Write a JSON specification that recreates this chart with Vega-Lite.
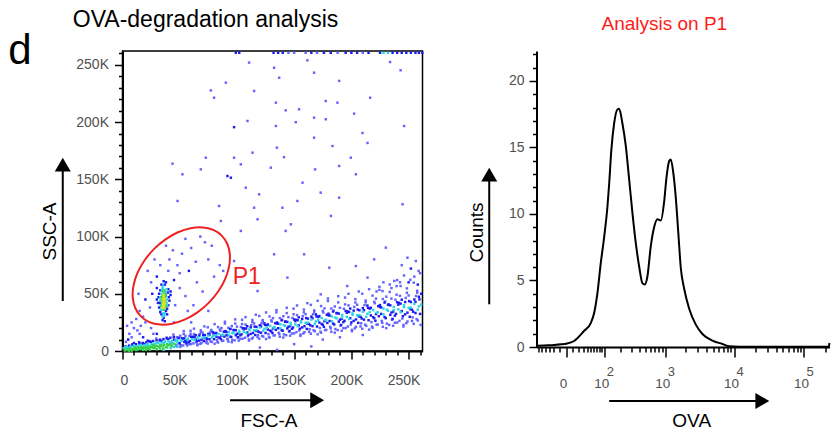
{
"$schema":"https://vega.github.io/schema/vega-lite/v6.json",
"background":"white",
"padding":{"left":7.5,"top":8,"right":0,"bottom":0},
"autosize":{"type":"pad"},
"spacing":43,
"config":{
 "font":"Liberation Sans",
 "view":{"stroke":null},
 "axis":{"domainColor":"#000","domainWidth":2,"tickColor":"#000","tickWidth":1.5,"labelColor":"#505050","labelFontSize":14,"labelFont":"Liberation Sans","titleColor":"#000","titleFontSize":19,"titleFontWeight":"normal","titleFont":"Liberation Sans","grid":false,"zindex":1,"labelFlush":false,"labelOverlap":false,"labelBound":false},
 "title":{"fontWeight":"normal","font":"Liberation Sans"}
},
"hconcat":[
{
 "width":300,"height":300,
 "view":{"stroke":"#000","strokeWidth":1.5},
 "title":{"text":"OVA-degradation analysis","anchor":"start","frame":"group","dx":-49.7,"baseline":"alphabetic","offset":-20,"fontSize":23,"color":"#000"},
 "resolve":{"axis":{"x":"independent","y":"independent"}},
 "layer":[
 {
  "data":{"values":[
{"x":2,"y":0.4,"d":3},{"x":3,"y":1.4,"d":3},{"x":1,"y":2.4,"d":2},{"x":2.5,"y":3.7,"d":2},
{"x":5,"y":1.1,"d":3},{"x":6,"y":2.4,"d":2},{"x":4,"y":3.5,"d":2},{"x":5.5,"y":0.3,"d":3},
{"x":8,"y":0.3,"d":3},{"x":9,"y":2.0,"d":3},{"x":7,"y":3.7,"d":2},{"x":8.5,"y":5.8,"d":1},
{"x":11,"y":1.6,"d":3},{"x":12,"y":3.1,"d":3},{"x":10,"y":5.1,"d":2},{"x":11.5,"y":2.9,"d":3},
{"x":14,"y":2.7,"d":3},{"x":15,"y":4.8,"d":2},{"x":13,"y":1.2,"d":3},{"x":14.5,"y":7.7,"d":1},
{"x":17,"y":1.8,"d":3},{"x":18,"y":3.4,"d":3},{"x":16,"y":4.8,"d":2},{"x":17.5,"y":6.5,"d":1},
{"x":20,"y":2.9,"d":3},{"x":21,"y":4.7,"d":2},{"x":19,"y":6.1,"d":1},{"x":20.5,"y":0.9,"d":3},
{"x":23,"y":1.8,"d":3},{"x":24,"y":3.9,"d":3},{"x":22,"y":6.0,"d":2},{"x":23.5,"y":8.7,"d":0},
{"x":26,"y":3.4,"d":3},{"x":27,"y":5.3,"d":3},{"x":25,"y":7.9,"d":1},{"x":26.5,"y":5.0,"d":2},
{"x":29,"y":4.7,"d":3},{"x":30,"y":7.4,"d":2},{"x":28,"y":2.7,"d":3},{"x":29.5,"y":11.0,"d":0},
{"x":32,"y":3.4,"d":3},{"x":33,"y":5.4,"d":3},{"x":31,"y":7.1,"d":2},{"x":32.5,"y":9.2,"d":1},
{"x":35,"y":4.8,"d":3},{"x":36,"y":7.0,"d":2},{"x":34,"y":8.8,"d":1},{"x":35.5,"y":2.3,"d":3},
{"x":38,"y":3.3,"d":3},{"x":39,"y":5.9,"d":3},{"x":37,"y":8.5,"d":2},{"x":38.5,"y":11.8,"d":0},
{"x":41,"y":5.1,"d":3},{"x":42,"y":7.4,"d":2},{"x":40,"y":10.4,"d":1},{"x":41.5,"y":7.0,"d":2},
{"x":44,"y":6.7,"d":2},{"x":45,"y":9.9,"d":1},{"x":43,"y":4.3,"d":3},{"x":44.5,"y":14.3,"d":0},
{"x":3.5,"y":0.9,"d":3},{"x":4.2,"y":2.6,"d":2},{"x":2.8,"y":4.2,"d":1},
{"x":6.5,"y":1.3,"d":3},{"x":7.2,"y":3.1,"d":2},{"x":5.8,"y":4.7,"d":1},
{"x":9.5,"y":1.7,"d":3},{"x":10.2,"y":3.6,"d":2},{"x":8.8,"y":5.3,"d":1},
{"x":12.5,"y":2.0,"d":3},{"x":13.2,"y":4.1,"d":2},{"x":11.8,"y":5.9,"d":1},
{"x":15.5,"y":2.4,"d":3},{"x":16.2,"y":4.6,"d":2},{"x":14.8,"y":6.5,"d":1},
{"x":18.5,"y":2.8,"d":3},{"x":19.2,"y":5.0,"d":2},{"x":17.8,"y":7.0,"d":1},
{"x":21.5,"y":3.1,"d":3},{"x":22.2,"y":5.5,"d":2},{"x":20.8,"y":7.6,"d":1},
{"x":24.5,"y":3.5,"d":3},{"x":25.2,"y":6.0,"d":2},{"x":23.8,"y":8.2,"d":1},
{"x":27.5,"y":3.9,"d":3},{"x":28.2,"y":6.5,"d":2},{"x":26.8,"y":8.7,"d":1},
{"x":30.5,"y":4.2,"d":3},{"x":31.2,"y":6.9,"d":2},{"x":29.8,"y":9.3,"d":1},
{"x":33.5,"y":4.6,"d":3},{"x":34.2,"y":7.4,"d":2},{"x":32.8,"y":9.9,"d":1},
{"x":36.5,"y":5.0,"d":3},{"x":37.2,"y":7.9,"d":2},{"x":35.8,"y":10.4,"d":1},
{"x":39.5,"y":5.3,"d":3},{"x":40.2,"y":8.4,"d":2},{"x":38.8,"y":11.0,"d":1},
{"x":42.5,"y":5.7,"d":3},{"x":43.2,"y":8.8,"d":2},{"x":41.8,"y":11.6,"d":1},
{"x":45.5,"y":6.1,"d":3},{"x":46.2,"y":9.3,"d":2},{"x":44.8,"y":12.2,"d":1},
{"x":47,"y":5.0,"d":0},{"x":48,"y":7.5,"d":2},{"x":46,"y":9.5,"d":1},{"x":47.5,"y":12.0,"d":0},
{"x":50,"y":6.7,"d":1},{"x":51,"y":9.2,"d":2},{"x":49,"y":11.4,"d":1},{"x":50.5,"y":3.6,"d":0},
{"x":53,"y":4.8,"d":0},{"x":54,"y":7.9,"d":1},{"x":52,"y":11.0,"d":1},{"x":53.5,"y":14.9,"d":0},
{"x":56,"y":6.9,"d":1},{"x":57,"y":9.6,"d":2},{"x":55,"y":13.2,"d":0},{"x":56.5,"y":9.2,"d":1},
{"x":59,"y":8.7,"d":1},{"x":60,"y":12.5,"d":1},{"x":58,"y":5.9,"d":0},{"x":59.5,"y":17.6,"d":0},
{"x":62,"y":6.7,"d":0},{"x":63,"y":9.5,"d":2},{"x":61,"y":11.9,"d":1},{"x":62.5,"y":14.8,"d":0},
{"x":65,"y":8.5,"d":1},{"x":66,"y":11.4,"d":2},{"x":64,"y":13.8,"d":1},{"x":65.5,"y":5.0,"d":0},
{"x":68,"y":6.3,"d":0},{"x":69,"y":9.9,"d":1},{"x":67,"y":13.4,"d":1},{"x":68.5,"y":18.0,"d":0},
{"x":71,"y":8.7,"d":1},{"x":72,"y":11.8,"d":2},{"x":70,"y":16.0,"d":0},{"x":71.5,"y":11.3,"d":1},
{"x":74,"y":10.6,"d":1},{"x":75,"y":14.9,"d":1},{"x":73,"y":7.4,"d":0},{"x":74.5,"y":20.7,"d":0},
{"x":77,"y":8.3,"d":0},{"x":78,"y":11.6,"d":2},{"x":76,"y":14.3,"d":1},{"x":77.5,"y":17.6,"d":0},
{"x":80,"y":10.3,"d":1},{"x":81,"y":13.7,"d":2},{"x":79,"y":16.5,"d":1},{"x":80.5,"y":6.4,"d":0},
{"x":83,"y":7.8,"d":0},{"x":84,"y":11.8,"d":1},{"x":82,"y":15.8,"d":1},{"x":83.5,"y":20.9,"d":0},
{"x":86,"y":10.5,"d":1},{"x":87,"y":14.0,"d":2},{"x":85,"y":18.7,"d":0},{"x":86.5,"y":13.4,"d":1},
{"x":89,"y":12.6,"d":1},{"x":90,"y":17.4,"d":1},{"x":88,"y":9.0,"d":0},{"x":89.5,"y":24.0,"d":0},
{"x":92,"y":9.9,"d":0},{"x":93,"y":13.6,"d":2},{"x":91,"y":16.6,"d":1},{"x":92.5,"y":20.3,"d":0},
{"x":95,"y":12.2,"d":1},{"x":96,"y":15.9,"d":2},{"x":94,"y":19.1,"d":1},{"x":95.5,"y":7.7,"d":0},
{"x":98,"y":9.3,"d":0},{"x":99,"y":13.8,"d":1},{"x":97,"y":18.3,"d":1},{"x":98.5,"y":24.0,"d":0},
{"x":101,"y":12.2,"d":1},{"x":102,"y":16.1,"d":2},{"x":100,"y":21.3,"d":0},{"x":101.5,"y":15.5,"d":1},
{"x":104,"y":14.6,"d":1},{"x":105,"y":20.0,"d":1},{"x":103,"y":10.6,"d":0},{"x":104.5,"y":27.3,"d":0},
{"x":107,"y":11.6,"d":0},{"x":108,"y":15.6,"d":2},{"x":106,"y":19.0,"d":1},{"x":107.5,"y":23.1,"d":0},
{"x":110,"y":14.0,"d":1},{"x":111,"y":18.2,"d":2},{"x":109,"y":21.7,"d":1},{"x":110.5,"y":9.1,"d":0},
{"x":113,"y":10.8,"d":0},{"x":114,"y":15.8,"d":1},{"x":112,"y":20.7,"d":1},{"x":113.5,"y":27.1,"d":0},
{"x":116,"y":14.0,"d":1},{"x":117,"y":18.3,"d":2},{"x":115,"y":24.1,"d":0},{"x":116.5,"y":17.6,"d":1},
{"x":119,"y":16.6,"d":1},{"x":120,"y":22.5,"d":1},{"x":118,"y":12.1,"d":0},{"x":119.5,"y":30.6,"d":0},
{"x":122,"y":13.2,"d":0},{"x":123,"y":17.7,"d":2},{"x":121,"y":21.5,"d":1},{"x":122.5,"y":26.0,"d":0},
{"x":125,"y":15.8,"d":1},{"x":126,"y":20.4,"d":2},{"x":124,"y":24.2,"d":1},{"x":125.5,"y":10.5,"d":0},
{"x":128,"y":12.3,"d":0},{"x":129,"y":17.8,"d":1},{"x":127,"y":23.2,"d":1},{"x":128.5,"y":30.2,"d":0},
{"x":131,"y":15.8,"d":1},{"x":132,"y":20.5,"d":2},{"x":130,"y":26.8,"d":0},{"x":131.5,"y":19.7,"d":1},
{"x":134,"y":18.5,"d":1},{"x":135,"y":24.9,"d":1},{"x":133,"y":13.7,"d":0},{"x":134.5,"y":33.7,"d":0},
{"x":137,"y":14.8,"d":0},{"x":138,"y":19.8,"d":2},{"x":136,"y":23.9,"d":1},{"x":137.5,"y":28.8,"d":0},
{"x":140,"y":17.7,"d":1},{"x":141,"y":22.6,"d":2},{"x":139,"y":26.8,"d":1},{"x":140.5,"y":11.8,"d":0},
{"x":143,"y":13.8,"d":0},{"x":144,"y":19.7,"d":1},{"x":142,"y":25.6,"d":1},{"x":143.5,"y":33.1,"d":0},
{"x":146,"y":17.5,"d":1},{"x":147,"y":22.7,"d":2},{"x":145,"y":29.6,"d":0},{"x":146.5,"y":21.8,"d":1},
{"x":149,"y":20.5,"d":1},{"x":150,"y":27.5,"d":1},{"x":148,"y":15.3,"d":0},{"x":149.5,"y":37.0,"d":0},
{"x":152,"y":16.5,"d":0},{"x":153,"y":21.7,"d":2},{"x":151,"y":26.1,"d":1},{"x":152.5,"y":31.4,"d":0},
{"x":155,"y":19.5,"d":1},{"x":156,"y":24.9,"d":2},{"x":154,"y":29.4,"d":1},{"x":155.5,"y":13.2,"d":0},
{"x":158,"y":15.3,"d":0},{"x":159,"y":21.7,"d":1},{"x":157,"y":28.0,"d":1},{"x":158.5,"y":36.2,"d":0},
{"x":161,"y":19.3,"d":1},{"x":162,"y":24.8,"d":2},{"x":160,"y":32.2,"d":0},{"x":161.5,"y":23.9,"d":1},
{"x":164,"y":22.5,"d":1},{"x":165,"y":30.0,"d":1},{"x":163,"y":16.8,"d":0},{"x":164.5,"y":40.3,"d":0},
{"x":167,"y":18.1,"d":0},{"x":168,"y":23.8,"d":2},{"x":166,"y":28.6,"d":1},{"x":167.5,"y":34.3,"d":0},
{"x":170,"y":21.4,"d":1},{"x":171,"y":27.2,"d":2},{"x":169,"y":32.0,"d":1},{"x":170.5,"y":14.6,"d":0},
{"x":173,"y":16.8,"d":0},{"x":174,"y":23.7,"d":1},{"x":172,"y":30.5,"d":1},{"x":173.5,"y":39.3,"d":0},
{"x":176,"y":21.1,"d":1},{"x":177,"y":27.0,"d":2},{"x":175,"y":34.9,"d":0},{"x":176.5,"y":26.0,"d":1},
{"x":179,"y":24.5,"d":1},{"x":180,"y":32.6,"d":1},{"x":178,"y":18.4,"d":0},{"x":179.5,"y":43.7,"d":0},
{"x":182,"y":19.7,"d":0},{"x":183,"y":25.9,"d":2},{"x":181,"y":31.0,"d":1},{"x":182.5,"y":37.1,"d":0},
{"x":185,"y":23.2,"d":1},{"x":186,"y":29.3,"d":2},{"x":184,"y":34.5,"d":1},{"x":185.5,"y":16.0,"d":0},
{"x":188,"y":18.3,"d":0},{"x":189,"y":25.7,"d":1},{"x":187,"y":33.0,"d":1},{"x":188.5,"y":42.5,"d":0},
{"x":191,"y":22.8,"d":1},{"x":192,"y":29.2,"d":2},{"x":190,"y":37.7,"d":0},{"x":191.5,"y":28.1,"d":1},
{"x":194,"y":26.4,"d":1},{"x":195,"y":35.0,"d":1},{"x":193,"y":20.0,"d":0},{"x":194.5,"y":46.7,"d":0},
{"x":197,"y":21.4,"d":0},{"x":198,"y":27.9,"d":2},{"x":196,"y":33.4,"d":1},{"x":197.5,"y":39.9,"d":0},
{"x":200,"y":25.0,"d":1},{"x":201,"y":31.6,"d":2},{"x":199,"y":37.1,"d":1},{"x":200.5,"y":17.3,"d":0},
{"x":203,"y":19.8,"d":0},{"x":204,"y":27.6,"d":1},{"x":202,"y":35.3,"d":1},{"x":203.5,"y":45.3,"d":0},
{"x":206,"y":24.6,"d":1},{"x":207,"y":31.4,"d":2},{"x":205,"y":40.4,"d":0},{"x":206.5,"y":30.3,"d":1},
{"x":209,"y":28.4,"d":1},{"x":210,"y":37.5,"d":1},{"x":208,"y":21.5,"d":0},{"x":209.5,"y":50.0,"d":0},
{"x":212,"y":23.0,"d":0},{"x":213,"y":29.9,"d":2},{"x":211,"y":35.7,"d":1},{"x":212.5,"y":42.6,"d":0},
{"x":215,"y":26.9,"d":1},{"x":216,"y":33.9,"d":2},{"x":214,"y":39.7,"d":1},{"x":215.5,"y":18.7,"d":0},
{"x":218,"y":21.3,"d":0},{"x":219,"y":29.6,"d":1},{"x":217,"y":37.8,"d":1},{"x":218.5,"y":48.4,"d":0},
{"x":221,"y":26.4,"d":1},{"x":222,"y":33.5,"d":2},{"x":220,"y":43.0,"d":0},{"x":221.5,"y":32.3,"d":1},
{"x":224,"y":30.4,"d":1},{"x":225,"y":40.1,"d":1},{"x":223,"y":23.1,"d":0},{"x":224.5,"y":53.4,"d":0},
{"x":227,"y":24.6,"d":0},{"x":228,"y":32.0,"d":2},{"x":226,"y":38.1,"d":1},{"x":227.5,"y":45.4,"d":0},
{"x":230,"y":28.7,"d":1},{"x":231,"y":36.1,"d":2},{"x":229,"y":42.3,"d":1},{"x":230.5,"y":20.0,"d":0},
{"x":233,"y":22.8,"d":0},{"x":234,"y":31.6,"d":1},{"x":232,"y":40.3,"d":1},{"x":233.5,"y":51.6,"d":0},
{"x":236,"y":28.1,"d":1},{"x":237,"y":35.7,"d":2},{"x":235,"y":45.8,"d":0},{"x":236.5,"y":34.4,"d":1},
{"x":239,"y":32.4,"d":1},{"x":240,"y":42.6,"d":1},{"x":238,"y":24.7,"d":0},{"x":239.5,"y":56.7,"d":0},
{"x":242,"y":26.3,"d":0},{"x":243,"y":33.9,"d":2},{"x":241,"y":40.5,"d":1},{"x":242.5,"y":48.2,"d":0},
{"x":245,"y":30.5,"d":1},{"x":246,"y":38.3,"d":2},{"x":244,"y":44.8,"d":1},{"x":245.5,"y":21.4,"d":0},
{"x":248,"y":24.3,"d":0},{"x":249,"y":33.5,"d":1},{"x":247,"y":42.8,"d":1},{"x":248.5,"y":54.7,"d":0},
{"x":251,"y":29.9,"d":1},{"x":252,"y":37.9,"d":2},{"x":250,"y":48.5,"d":0},{"x":251.5,"y":36.6,"d":1},
{"x":254,"y":34.3,"d":1},{"x":255,"y":45.0,"d":1},{"x":253,"y":26.2,"d":0},{"x":254.5,"y":59.7,"d":0},
{"x":257,"y":27.9,"d":0},{"x":258,"y":36.1,"d":2},{"x":256,"y":42.9,"d":1},{"x":257.5,"y":51.0,"d":0},
{"x":260,"y":32.4,"d":1},{"x":261,"y":40.6,"d":2},{"x":259,"y":47.4,"d":1},{"x":260.5,"y":22.8,"d":0},
{"x":49,"y":6.9,"d":1},{"x":48,"y":9.4,"d":2},{"x":49.5,"y":11.5,"d":0},{"x":47.5,"y":3.9,"d":0},
{"x":52,"y":9.0,"d":2},{"x":51,"y":5.1,"d":0},{"x":52.5,"y":10.9,"d":1},{"x":50.5,"y":13.3,"d":0},
{"x":55,"y":8.7,"d":1},{"x":54,"y":11.0,"d":1},{"x":55.5,"y":6.5,"d":0},{"x":53.5,"y":17.4,"d":0},
{"x":58,"y":8.0,"d":1},{"x":57,"y":10.8,"d":2},{"x":58.5,"y":13.1,"d":0},{"x":56.5,"y":4.8,"d":0},
{"x":61,"y":10.3,"d":2},{"x":60,"y":6.0,"d":0},{"x":61.5,"y":12.4,"d":1},{"x":59.5,"y":15.0,"d":0},
{"x":64,"y":10.0,"d":1},{"x":63,"y":12.4,"d":1},{"x":64.5,"y":7.6,"d":0},{"x":62.5,"y":19.5,"d":0},
{"x":67,"y":9.1,"d":1},{"x":66,"y":12.1,"d":2},{"x":67.5,"y":14.6,"d":0},{"x":65.5,"y":5.7,"d":0},
{"x":70,"y":11.6,"d":2},{"x":69,"y":7.0,"d":0},{"x":70.5,"y":13.9,"d":1},{"x":68.5,"y":16.7,"d":0},
{"x":73,"y":11.2,"d":1},{"x":72,"y":13.9,"d":1},{"x":73.5,"y":8.6,"d":0},{"x":71.5,"y":21.5,"d":0},
{"x":76,"y":10.3,"d":1},{"x":75,"y":13.5,"d":2},{"x":76.5,"y":16.2,"d":0},{"x":74.5,"y":6.5,"d":0},
{"x":79,"y":12.9,"d":2},{"x":78,"y":7.9,"d":0},{"x":79.5,"y":15.4,"d":1},{"x":77.5,"y":18.4,"d":0},
{"x":82,"y":12.5,"d":1},{"x":81,"y":15.3,"d":1},{"x":82.5,"y":9.6,"d":0},{"x":80.5,"y":23.5,"d":0},
{"x":85,"y":11.4,"d":1},{"x":84,"y":14.9,"d":2},{"x":85.5,"y":17.8,"d":0},{"x":83.5,"y":7.4,"d":0},
{"x":88,"y":14.2,"d":2},{"x":87,"y":8.8,"d":0},{"x":88.5,"y":16.9,"d":1},{"x":86.5,"y":20.1,"d":0},
{"x":91,"y":13.7,"d":1},{"x":90,"y":16.7,"d":1},{"x":91.5,"y":10.7,"d":0},{"x":89.5,"y":25.6,"d":0},
{"x":94,"y":12.6,"d":1},{"x":93,"y":16.3,"d":2},{"x":94.5,"y":19.4,"d":0},{"x":92.5,"y":8.2,"d":0},
{"x":97,"y":15.5,"d":2},{"x":96,"y":9.8,"d":0},{"x":97.5,"y":18.3,"d":1},{"x":95.5,"y":21.8,"d":0},
{"x":100,"y":15.0,"d":1},{"x":99,"y":18.2,"d":1},{"x":100.5,"y":11.7,"d":0},{"x":98.5,"y":27.6,"d":0},
{"x":103,"y":13.7,"d":1},{"x":102,"y":17.7,"d":2},{"x":103.5,"y":21.0,"d":0},{"x":101.5,"y":9.1,"d":0},
{"x":106,"y":16.8,"d":2},{"x":105,"y":10.7,"d":0},{"x":106.5,"y":19.8,"d":1},{"x":104.5,"y":23.6,"d":0},
{"x":109,"y":16.2,"d":1},{"x":108,"y":19.6,"d":1},{"x":109.5,"y":12.8,"d":0},{"x":107.5,"y":29.6,"d":0},
{"x":112,"y":14.9,"d":1},{"x":111,"y":19.1,"d":2},{"x":112.5,"y":22.6,"d":0},{"x":110.5,"y":10.0,"d":0},
{"x":115,"y":18.1,"d":2},{"x":114,"y":11.7,"d":0},{"x":115.5,"y":21.3,"d":1},{"x":113.5,"y":25.3,"d":0},
{"x":118,"y":17.5,"d":1},{"x":117,"y":21.1,"d":1},{"x":118.5,"y":13.8,"d":0},{"x":116.5,"y":31.7,"d":0},
{"x":121,"y":16.0,"d":1},{"x":120,"y":20.5,"d":2},{"x":121.5,"y":24.2,"d":0},{"x":119.5,"y":10.8,"d":0},
{"x":124,"y":19.4,"d":2},{"x":123,"y":12.6,"d":0},{"x":124.5,"y":22.8,"d":1},{"x":122.5,"y":27.0,"d":0},
{"x":127,"y":18.7,"d":1},{"x":126,"y":22.5,"d":1},{"x":127.5,"y":14.8,"d":0},{"x":125.5,"y":33.7,"d":0},
{"x":130,"y":17.2,"d":1},{"x":129,"y":21.9,"d":2},{"x":130.5,"y":25.8,"d":0},{"x":128.5,"y":11.7,"d":0},
{"x":133,"y":20.7,"d":2},{"x":132,"y":13.6,"d":0},{"x":133.5,"y":24.3,"d":1},{"x":131.5,"y":28.7,"d":0},
{"x":136,"y":19.9,"d":1},{"x":135,"y":24.0,"d":1},{"x":136.5,"y":15.9,"d":0},{"x":134.5,"y":35.7,"d":0},
{"x":139,"y":18.3,"d":1},{"x":138,"y":23.2,"d":2},{"x":139.5,"y":27.3,"d":0},{"x":137.5,"y":12.5,"d":0},
{"x":142,"y":22.0,"d":2},{"x":141,"y":14.5,"d":0},{"x":142.5,"y":25.8,"d":1},{"x":140.5,"y":30.4,"d":0},
{"x":145,"y":21.2,"d":1},{"x":144,"y":25.4,"d":1},{"x":145.5,"y":16.9,"d":0},{"x":143.5,"y":37.8,"d":0},
{"x":148,"y":19.4,"d":1},{"x":147,"y":24.6,"d":2},{"x":148.5,"y":28.9,"d":0},{"x":146.5,"y":13.4,"d":0},
{"x":151,"y":23.3,"d":2},{"x":150,"y":15.4,"d":0},{"x":151.5,"y":27.3,"d":1},{"x":149.5,"y":32.1,"d":0},
{"x":154,"y":22.4,"d":1},{"x":153,"y":26.9,"d":1},{"x":154.5,"y":18.0,"d":0},{"x":152.5,"y":39.8,"d":0},
{"x":157,"y":20.6,"d":1},{"x":156,"y":26.0,"d":2},{"x":157.5,"y":30.5,"d":0},{"x":155.5,"y":14.3,"d":0},
{"x":160,"y":24.6,"d":2},{"x":159,"y":16.4,"d":0},{"x":160.5,"y":28.8,"d":1},{"x":158.5,"y":33.8,"d":0},
{"x":163,"y":23.7,"d":1},{"x":162,"y":28.3,"d":1},{"x":163.5,"y":19.0,"d":0},{"x":161.5,"y":41.8,"d":0},
{"x":166,"y":21.7,"d":1},{"x":165,"y":27.4,"d":2},{"x":166.5,"y":32.1,"d":0},{"x":164.5,"y":15.1,"d":0},
{"x":169,"y":25.9,"d":2},{"x":168,"y":17.3,"d":0},{"x":169.5,"y":30.2,"d":1},{"x":167.5,"y":35.5,"d":0},
{"x":172,"y":24.9,"d":1},{"x":171,"y":29.8,"d":1},{"x":172.5,"y":20.1,"d":0},{"x":170.5,"y":43.9,"d":0},
{"x":175,"y":22.9,"d":1},{"x":174,"y":28.8,"d":2},{"x":175.5,"y":33.7,"d":0},{"x":173.5,"y":16.0,"d":0},
{"x":178,"y":27.2,"d":2},{"x":177,"y":18.3,"d":0},{"x":178.5,"y":31.7,"d":1},{"x":176.5,"y":37.2,"d":0},
{"x":181,"y":26.2,"d":1},{"x":180,"y":31.2,"d":1},{"x":181.5,"y":21.1,"d":0},{"x":179.5,"y":45.9,"d":0},
{"x":184,"y":24.0,"d":1},{"x":183,"y":30.2,"d":2},{"x":184.5,"y":35.3,"d":0},{"x":182.5,"y":16.8,"d":0},
{"x":187,"y":28.5,"d":2},{"x":186,"y":19.2,"d":0},{"x":187.5,"y":33.2,"d":1},{"x":185.5,"y":38.9,"d":0},
{"x":190,"y":27.4,"d":1},{"x":189,"y":32.7,"d":1},{"x":190.5,"y":22.1,"d":0},{"x":188.5,"y":47.9,"d":0},
{"x":193,"y":25.2,"d":1},{"x":192,"y":31.5,"d":2},{"x":193.5,"y":36.9,"d":0},{"x":191.5,"y":17.7,"d":0},
{"x":196,"y":29.9,"d":2},{"x":195,"y":20.1,"d":0},{"x":196.5,"y":34.7,"d":1},{"x":194.5,"y":40.7,"d":0},
{"x":199,"y":28.6,"d":1},{"x":198,"y":34.1,"d":1},{"x":199.5,"y":23.2,"d":0},{"x":197.5,"y":50.0,"d":0},
{"x":202,"y":26.3,"d":1},{"x":201,"y":32.9,"d":2},{"x":202.5,"y":38.5,"d":0},{"x":200.5,"y":18.5,"d":0},
{"x":205,"y":31.2,"d":2},{"x":204,"y":21.1,"d":0},{"x":205.5,"y":36.2,"d":1},{"x":203.5,"y":42.4,"d":0},
{"x":208,"y":29.9,"d":1},{"x":207,"y":35.6,"d":1},{"x":208.5,"y":24.2,"d":0},{"x":206.5,"y":52.0,"d":0},
{"x":211,"y":27.4,"d":1},{"x":210,"y":34.3,"d":2},{"x":211.5,"y":40.1,"d":0},{"x":209.5,"y":19.4,"d":0},
{"x":214,"y":32.5,"d":2},{"x":213,"y":22.0,"d":0},{"x":214.5,"y":37.7,"d":1},{"x":212.5,"y":44.1,"d":0},
{"x":217,"y":31.1,"d":1},{"x":216,"y":37.0,"d":1},{"x":217.5,"y":25.3,"d":0},{"x":215.5,"y":54.0,"d":0},
{"x":220,"y":28.6,"d":1},{"x":219,"y":35.7,"d":2},{"x":220.5,"y":41.7,"d":0},{"x":218.5,"y":20.3,"d":0},
{"x":223,"y":33.8,"d":2},{"x":222,"y":23.0,"d":0},{"x":223.5,"y":39.2,"d":1},{"x":221.5,"y":45.8,"d":0},
{"x":226,"y":32.4,"d":1},{"x":225,"y":38.5,"d":1},{"x":226.5,"y":26.3,"d":0},{"x":224.5,"y":56.1,"d":0},
{"x":229,"y":29.7,"d":1},{"x":228,"y":37.1,"d":2},{"x":229.5,"y":43.2,"d":0},{"x":227.5,"y":21.1,"d":0},
{"x":232,"y":35.1,"d":2},{"x":231,"y":23.9,"d":0},{"x":232.5,"y":40.7,"d":1},{"x":230.5,"y":47.5,"d":0},
{"x":235,"y":33.6,"d":1},{"x":234,"y":39.9,"d":1},{"x":235.5,"y":27.3,"d":0},{"x":233.5,"y":58.1,"d":0},
{"x":238,"y":30.9,"d":1},{"x":237,"y":38.5,"d":2},{"x":238.5,"y":44.8,"d":0},{"x":236.5,"y":22.0,"d":0},
{"x":241,"y":36.4,"d":2},{"x":240,"y":24.8,"d":0},{"x":241.5,"y":42.1,"d":1},{"x":239.5,"y":49.2,"d":0},
{"x":244,"y":34.9,"d":1},{"x":243,"y":41.4,"d":1},{"x":244.5,"y":28.4,"d":0},{"x":242.5,"y":60.1,"d":0},
{"x":247,"y":32.0,"d":1},{"x":246,"y":39.9,"d":2},{"x":247.5,"y":46.4,"d":0},{"x":245.5,"y":22.8,"d":0},
{"x":250,"y":37.7,"d":2},{"x":249,"y":25.8,"d":0},{"x":250.5,"y":43.6,"d":1},{"x":248.5,"y":50.9,"d":0},
{"x":253,"y":36.1,"d":1},{"x":252,"y":42.8,"d":1},{"x":253.5,"y":29.4,"d":0},{"x":251.5,"y":62.2,"d":0},
{"x":256,"y":33.2,"d":1},{"x":255,"y":41.3,"d":2},{"x":256.5,"y":48.0,"d":0},{"x":254.5,"y":23.7,"d":0},
{"x":259,"y":39.0,"d":2},{"x":258,"y":26.7,"d":0},{"x":259.5,"y":45.1,"d":1},{"x":257.5,"y":52.6,"d":0},
{"x":3,"y":1,"d":3},{"x":6,"y":2,"d":3},{"x":9,"y":1.5,"d":3},{"x":12,"y":0.8,"d":3},{"x":15,"y":1.8,"d":3},{"x":18,"y":1,"d":3},{"x":21,"y":2,"d":3},{"x":24,"y":1.2,"d":3},{"x":27,"y":2.5,"d":3},{"x":30,"y":1.5,"d":3},{"x":33,"y":2.2,"d":3},{"x":36,"y":1,"d":2},{"x":39,"y":3,"d":3},{"x":42,"y":2.5,"d":2},{"x":45,"y":3.5,"d":2},{"x":48,"y":4,"d":2},{"x":10,"y":2.8,"d":3},{"x":16,"y":3,"d":3},{"x":22,"y":3.2,"d":3},{"x":28,"y":3.8,"d":2},
{"x":3,"y":8,"d":0},{"x":6,"y":15,"d":0},{"x":10,"y":7,"d":1},{"x":13,"y":18,"d":0},{"x":4,"y":22,"d":0},{"x":18,"y":12,"d":1},{"x":22,"y":9,"d":1},{"x":8,"y":25,"d":0},{"x":16,"y":22,"d":0},{"x":27,"y":15,"d":0},
{"x":36,"y":40,"d":4},{"x":36.5,"y":43,"d":4},{"x":35.5,"y":45,"d":4},{"x":36,"y":47,"d":4},{"x":37,"y":41,"d":4},{"x":35,"y":38,"d":4},{"x":36.5,"y":38,"d":4},{"x":35.5,"y":42,"d":4},{"x":37,"y":45,"d":4},{"x":36,"y":49,"d":4},
{"x":34.5,"y":42,"d":3},{"x":37.5,"y":44,"d":3},{"x":35,"y":48,"d":3},{"x":36.5,"y":50,"d":3},{"x":34,"y":39,"d":3},{"x":38,"y":39,"d":3},{"x":36,"y":36,"d":3},{"x":35.5,"y":52,"d":3},{"x":37,"y":47,"d":3},{"x":34.5,"y":45,"d":3},{"x":35,"y":42,"d":3},{"x":37,"y":38,"d":3},{"x":36,"y":44,"d":3},{"x":37.5,"y":49,"d":3},{"x":34,"y":47,"d":3},{"x":36,"y":53,"d":3},
{"x":33.5,"y":36,"d":2},{"x":38.5,"y":42,"d":2},{"x":33,"y":44,"d":2},{"x":36,"y":33,"d":2},{"x":37.5,"y":52,"d":2},{"x":35,"y":55,"d":2},{"x":38,"y":48,"d":2},{"x":34,"y":50,"d":2},{"x":36.5,"y":31,"d":2},{"x":33.5,"y":40,"d":2},{"x":39,"y":45,"d":2},{"x":35.5,"y":57,"d":2},{"x":34,"y":36,"d":2},{"x":39,"y":40,"d":2},{"x":33,"y":47,"d":2},{"x":38.5,"y":54,"d":2},{"x":35,"y":30,"d":2},{"x":37,"y":33,"d":2},{"x":38,"y":50,"d":2},{"x":34.5,"y":53,"d":2},
{"x":32,"y":38,"d":1},{"x":40,"y":40,"d":1},{"x":31.5,"y":47,"d":1},{"x":39.5,"y":51,"d":1},{"x":36,"y":29,"d":1},{"x":33,"y":53,"d":1},{"x":37,"y":58,"d":1},{"x":38,"y":35,"d":1},{"x":34,"y":32,"d":1},{"x":40.5,"y":47,"d":1},{"x":36,"y":61,"d":1},{"x":32.5,"y":42,"d":1},{"x":35,"y":27,"d":1},{"x":39,"y":37,"d":1},{"x":31,"y":42,"d":1},{"x":41,"y":44,"d":1},{"x":32,"y":50,"d":1},{"x":40,"y":54,"d":1},{"x":34,"y":58,"d":1},{"x":38,"y":60,"d":1},{"x":33,"y":34,"d":1},{"x":39,"y":32,"d":1},{"x":37,"y":26,"d":1},{"x":42,"y":49,"d":1},{"x":30,"y":45,"d":1},
{"x":15,"y":35,"d":0},{"x":20,"y":45,"d":1},{"x":14,"y":50,"d":0},{"x":25,"y":60,"d":0},{"x":22,"y":70,"d":0},{"x":30,"y":65,"d":1},{"x":28,"y":80,"d":0},{"x":40,"y":70,"d":0},{"x":45,"y":62,"d":1},{"x":50,"y":55,"d":0},{"x":55,"y":48,"d":0},{"x":48,"y":75,"d":0},{"x":52,"y":85,"d":0},{"x":60,"y":90,"d":0},{"x":58,"y":70,"d":1},{"x":65,"y":60,"d":0},{"x":70,"y":52,"d":0},{"x":62,"y":40,"d":0},{"x":75,"y":80,"d":0},{"x":80,"y":65,"d":0},{"x":85,"y":75,"d":0},{"x":72,"y":95,"d":0},{"x":68,"y":100,"d":0},{"x":55,"y":98,"d":0},{"x":44,"y":88,"d":0},{"x":38,"y":92,"d":0},{"x":33,"y":75,"d":0},{"x":26,"y":50,"d":1},{"x":18,"y":30,"d":0},{"x":12,"y":28,"d":0},{"x":42,"y":52,"d":1},{"x":46,"y":40,"d":0},{"x":57,"y":35,"d":0},{"x":64,"y":78,"d":0},{"x":78,"y":92,"d":0},{"x":88,"y":70,"d":0},{"x":50,"y":68,"d":0},{"x":41,"y":80,"d":0},{"x":30,"y":55,"d":1},{"x":24,"y":38,"d":0},{"x":20,"y":25,"d":0},{"x":10,"y":20,"d":0},{"x":8,"y":12,"d":0},{"x":15,"y":15,"d":0},{"x":5,"y":10,"d":1},{"x":25,"y":20,"d":0},{"x":30,"y":15,"d":1},{"x":45,"y":25,"d":0},{"x":60,"y":25,"d":0},{"x":75,"y":35,"d":0},
{"x":110.6,"y":252,"d":0},{"x":161.6,"y":254,"d":0},{"x":233.8,"y":252.5,"d":0},{"x":243,"y":245.3,"d":0},{"x":132.5,"y":247.5,"d":0},{"x":167.4,"y":243.2,"d":0},{"x":136.9,"y":238.8,"d":0},{"x":189.3,"y":236,"d":0},{"x":90.3,"y":234.5,"d":0},{"x":115,"y":227.2,"d":0},{"x":77.2,"y":227.7,"d":0},{"x":80,"y":221.3,"d":0},{"x":216.4,"y":221.3,"d":0},{"x":177.6,"y":218.4,"d":0},{"x":187.8,"y":217,"d":0},{"x":134,"y":217,"d":0},{"x":154.3,"y":211.2,"d":0},{"x":142.6,"y":210.3,"d":0},{"x":202.4,"y":207.4,"d":0},{"x":109.2,"y":201,"d":0},{"x":167.4,"y":203.9,"d":0},{"x":151.4,"y":199.9,"d":0},{"x":177.6,"y":202.5,"d":0},{"x":246.1,"y":196.6,"d":0},{"x":97.5,"y":195.6,"d":1},{"x":134,"y":196.6,"d":0},{"x":167.4,"y":186.4,"d":0},{"x":209.7,"y":190.5,"d":0},{"x":183.5,"y":179.1,"d":0},{"x":214.1,"y":181.8,"d":0},{"x":134.9,"y":177.7,"d":0},{"x":113.6,"y":173.3,"d":0},{"x":72.8,"y":168.9,"d":0},{"x":97.5,"y":168.9,"d":0},{"x":141.1,"y":169.4,"d":0},{"x":199.5,"y":168.9,"d":0},{"x":103.4,"y":163.1,"d":0},{"x":43.7,"y":163.7,"d":0},{"x":189.3,"y":161.7,"d":0},{"x":129.6,"y":160.2,"d":0},{"x":168.3,"y":158.7,"d":0},{"x":52.4,"y":154.4,"d":0},{"x":68.4,"y":158.7,"d":0},{"x":91.7,"y":152.9,"d":1},{"x":94.7,"y":151.4,"d":1},{"x":203.9,"y":154.4,"d":0},{"x":157.3,"y":147.1,"d":0},{"x":107.7,"y":142.7,"d":0},{"x":119.4,"y":136.9,"d":0},{"x":173.2,"y":138.4,"d":0},{"x":189.3,"y":134,"d":0},{"x":48.1,"y":131.1,"d":0},{"x":244.7,"y":128.2,"d":0},{"x":84.4,"y":126.7,"d":0},{"x":139.7,"y":125.2,"d":0},{"x":152.8,"y":131.1,"d":0},{"x":118,"y":115.1,"d":0},{"x":182.1,"y":118,"d":0},{"x":147.1,"y":110.7,"d":0},{"x":103.4,"y":104.9,"d":0},{"x":142.6,"y":104.9,"d":0},{"x":230.1,"y":90.3,"d":0},{"x":158.7,"y":84.5,"d":0},{"x":132.5,"y":84.5,"d":0},{"x":219.9,"y":80.1,"d":0},{"x":180.7,"y":72.8,"d":0},{"x":203.9,"y":74.2,"d":0},{"x":249,"y":81.5,"d":0},{"x":256.3,"y":78.6,"d":0},{"x":214.1,"y":64.1,"d":0},{"x":237.5,"y":61.2,"d":0},{"x":258.8,"y":70,"d":0},{"x":196.4,"y":56.8,"d":0},{"x":144.1,"y":64.1,"d":0},{"x":118,"y":52.4,"d":0},{"x":227.2,"y":52.4,"d":0},{"x":173.2,"y":49.5,"d":0},{"x":243,"y":56.8,"d":0},{"x":97.5,"y":78.6,"d":0},{"x":85.9,"y":113.6,"d":0},{"x":115,"y":125.2,"d":0},
{"x":240,"y":62,"d":0},{"x":246,"y":66,"d":0},{"x":252,"y":72,"d":1},{"x":258,"y":58,"d":1},{"x":235,"y":55,"d":0},{"x":228,"y":60,"d":0},{"x":250,"y":60,"d":1},{"x":255,"y":65,"d":0},{"x":222,"y":52,"d":0},{"x":244,"y":75,"d":0},{"x":261,"y":50,"d":1},{"x":260,"y":68,"d":0},
{"x":120,"y":3,"d":0},{"x":150,"y":6,"d":0},{"x":175,"y":10,"d":0},{"x":135,"y":1,"d":0},{"x":190,"y":12,"d":0},{"x":210,"y":14,"d":0},{"x":165,"y":4,"d":0},
{"x":99,"y":260.6,"d":1},{"x":102,"y":260.6,"d":1},{"x":132,"y":260.6,"d":1},{"x":136,"y":260.6,"d":1},{"x":140,"y":260.6,"d":1},{"x":145,"y":260.6,"d":0},{"x":150,"y":260.6,"d":0},{"x":160,"y":260.6,"d":0},{"x":165,"y":260.6,"d":1},{"x":170,"y":260.6,"d":0},{"x":176,"y":260.6,"d":1},{"x":182,"y":260.6,"d":1},{"x":188,"y":260.6,"d":0},{"x":195,"y":260.6,"d":1},{"x":200,"y":260.6,"d":1},{"x":205,"y":260.6,"d":1},{"x":210,"y":260.6,"d":0},{"x":215,"y":260.6,"d":1},{"x":225,"y":260.6,"d":1},{"x":228,"y":260.6,"d":2},{"x":232,"y":260.6,"d":2},{"x":236,"y":260.6,"d":1},{"x":240,"y":260.6,"d":1},{"x":244,"y":260.6,"d":1},{"x":248,"y":260.6,"d":1},{"x":252,"y":260.6,"d":1},{"x":256,"y":260.6,"d":1},{"x":259,"y":260.6,"d":1},{"x":262,"y":260.6,"d":1}
  ]},
  "mark":{"type":"point","shape":"square","filled":true,"size":6,"opacity":1,"strokeWidth":0},
  "encoding":{
   "x":{"field":"x","type":"quantitative","scale":{"domain":[0,262.144],"nice":false,"zero":false},
        "axis":{"orient":"bottom","values":[0,50,100,150,200,250],"labelExpr":"datum.value == 0 ? '0' : datum.value + 'K'","tickSize":8,"labelPadding":25,"labelBaseline":"alphabetic","labelOffset":{"condition":{"test":"datum.value == 0","value":1.5},"value":-5},"title":"FSC-A","titleX":146,"titleY":75,"titleBaseline":"alphabetic"}},
   "y":{"field":"y","type":"quantitative","scale":{"domain":[0,262.144],"nice":false,"zero":false},
        "axis":{"orient":"left","values":[0,50,100,150,200,250],"labelExpr":"datum.value == 0 ? '0' : datum.value + 'K'","tickSize":8,"labelPadding":6,"title":"SSC-A","titleX":-66.7,"titleY":180,"titleBaseline":"alphabetic"}},
   "color":{"field":"d","type":"ordinal","scale":{"domain":[0,1,2,3,4],"range":["#6464ff","#1c1cf2","#2cd3e6","#38d24e","#e2e01c"]},"legend":null},
   "order":{"field":"d","type":"quantitative"}
  }
 },
 {
  "data":{"values":[
{"t":0,"x":86.68,"y":100.84},{"t":1,"x":79.34,"y":105.78},{"t":2,"x":70.09,"y":107.97},{"t":3,"x":59.57,"y":107.27},{"t":4,"x":48.49,"y":103.73},{"t":5,"x":37.61,"y":97.59},{"t":6,"x":27.66,"y":89.26},{"t":7,"x":19.33,"y":79.31},{"t":8,"x":13.19,"y":68.43},{"t":9,"x":9.65,"y":57.35},{"t":10,"x":8.95,"y":46.83},{"t":11,"x":11.14,"y":37.58},{"t":12,"x":16.08,"y":30.24},{"t":13,"x":23.42,"y":25.30},{"t":14,"x":32.67,"y":23.11},{"t":15,"x":43.19,"y":23.81},{"t":16,"x":54.27,"y":27.35},{"t":17,"x":65.15,"y":33.49},{"t":18,"x":75.10,"y":41.82},{"t":19,"x":83.43,"y":51.77},{"t":20,"x":89.57,"y":62.65},{"t":21,"x":93.11,"y":73.73},{"t":22,"x":93.81,"y":84.25},{"t":23,"x":91.62,"y":93.50}
  ]},
  "mark":{"type":"line","interpolate":"cardinal-closed","color":"#ee2222","strokeWidth":2},
  "encoding":{
   "x":{"field":"x","type":"quantitative","scale":{"domain":[0,262.144],"nice":false,"zero":false},
        "axis":{"orient":"bottom","values":[10,20,30,40,60,70,80,90,110,120,130,140,160,170,180,190,210,220,230,240,260],"labels":false,"domain":false,"tickSize":4,"title":null}},
   "y":{"field":"y","type":"quantitative","scale":{"domain":[0,262.144],"nice":false,"zero":false},
        "axis":{"orient":"left","values":[10,20,30,40,60,70,80,90,110,120,130,140,160,170,180,190,210,220,230,240,260],"labels":false,"domain":false,"tickSize":4,"title":null}},
   "order":{"field":"t","type":"quantitative"}
  }
 },
 {
  "data":{"values":[{"x":108.6,"y":64.7,"t":"P1"}]},
  "mark":{"type":"text","fontSize":23,"align":"center","baseline":"middle","color":"#ee2222"},
  "encoding":{
   "x":{"field":"x","type":"quantitative","scale":{"domain":[0,262.144],"nice":false,"zero":false},"axis":null},
   "y":{"field":"y","type":"quantitative","scale":{"domain":[0,262.144],"nice":false,"zero":false},"axis":null},
   "text":{"field":"t"}
  }
 },
 {
  "data":{"values":[{"x":-89.6,"y":250.8,"t":"d"}]},
  "mark":{"type":"text","fontSize":42,"align":"center","baseline":"alphabetic","color":"#000"},
  "encoding":{
   "x":{"field":"x","type":"quantitative","scale":{"domain":[0,262.144],"nice":false,"zero":false},"axis":null},
   "y":{"field":"y","type":"quantitative","scale":{"domain":[0,262.144],"nice":false,"zero":false},"axis":null},
   "text":{"field":"t"}
  }
 },
 {
  "data":{"values":[{"x":94,"x2":168,"y":-43.1,"y2":-43.1},{"x":-52.2,"x2":-52.2,"y":43.7,"y2":158}]},
  "mark":{"type":"rule","color":"#000","strokeWidth":2},
  "encoding":{
   "x":{"field":"x","type":"quantitative","scale":{"domain":[0,262.144],"nice":false,"zero":false},"axis":null},
   "x2":{"field":"x2"},
   "y":{"field":"y","type":"quantitative","scale":{"domain":[0,262.144],"nice":false,"zero":false},"axis":null},
   "y2":{"field":"y2"}
  }
 },
 {
  "data":{"values":[{"x":170.1,"y":-43.1,"s":"triangle-right"},{"x":-52.2,"y":162.9,"s":"triangle-up"}]},
  "mark":{"type":"point","filled":true,"size":256,"color":"#000","opacity":1,"strokeWidth":0},
  "encoding":{
   "x":{"field":"x","type":"quantitative","scale":{"domain":[0,262.144],"nice":false,"zero":false},"axis":null},
   "y":{"field":"y","type":"quantitative","scale":{"domain":[0,262.144],"nice":false,"zero":false},"axis":null},
   "shape":{"field":"s","type":"nominal","scale":null}
  }
 }
 ]
},
{
 "width":293,"height":296,
 "view":{"stroke":null},
 "title":{"text":"Analysis on P1","anchor":"start","frame":"group","dx":65,"baseline":"alphabetic","offset":2.5,"fontSize":19,"color":"#ff1a1a"},
 "resolve":{"axis":{"x":"independent","y":"independent"}},
 "layer":[
 {
  "data":{"values":[
{"v":-66,"c":0.1},{"v":-42,"c":0.12},{"v":-19,"c":0.15},{"v":-7,"c":0.2},{"v":0,"c":0.25},{"v":12,"c":0.45},{"v":32,"c":1.2},{"v":50,"c":1.8},{"v":60.5,"c":2.55},{"v":72,"c":4.05},{"v":85,"c":6.3},{"v":100,"c":8.3},{"v":116,"c":10.6},{"v":125,"c":12.3},{"v":137,"c":14.8},{"v":154,"c":16.8},{"v":176,"c":17.85},{"v":189,"c":17.9},{"v":215,"c":16.8},{"v":245,"c":15.1},{"v":278,"c":12.6},{"v":314,"c":10.1},{"v":356,"c":7.8},{"v":402,"c":6.05},{"v":452,"c":4.8},{"v":492,"c":4.7},{"v":540,"c":5.3},{"v":609,"c":7.6},{"v":683,"c":9.0},{"v":766,"c":9.6},{"v":862,"c":9.5},{"v":965,"c":10.9},{"v":1044,"c":12.7},{"v":1144,"c":13.96},{"v":1212,"c":14.1},{"v":1311,"c":13.2},{"v":1437,"c":11.2},{"v":1569,"c":8.45},{"v":1700,"c":5.94},{"v":1900,"c":4.4},{"v":2246,"c":2.9},{"v":2811,"c":1.68},{"v":3502,"c":0.98},{"v":4881,"c":0.48},{"v":6800,"c":0.23},{"v":8484,"c":0.05},{"v":11800,"c":0.02},{"v":60000,"c":0.02},{"v":225000,"c":0.02},{"v":231700,"c":0.3}
  ]},
  "mark":{"type":"line","interpolate":"monotone","color":"#000","strokeWidth":2},
  "encoding":{
   "x":{"field":"v","type":"quantitative","scale":{"type":"symlog","constant":40,"domain":[-66,231700],"nice":false,"zero":false},
        "axis":{"orient":"bottom","values":[0,100,1000,10000,100000],"labelExpr":"datum.value == 0 ? '0' : '10'","tickSize":10,"labelPadding":30,"labelBaseline":"alphabetic","labelOffset":-3,"labelFontSize":13.5,"title":"OVA","titleX":154.7,"titleY":79,"titleBaseline":"alphabetic"}},
   "y":{"field":"c","type":"quantitative","scale":{"domain":[0,22.25],"nice":false,"zero":false},
        "axis":{"orient":"left","values":[0,5,10,15,20],"tickSize":7.5,"labelPadding":5,"title":"Counts","titleX":-54,"titleY":181,"titleBaseline":"alphabetic"}}
  }
 },
 {
  "data":{"values":[{"x":-462,"x2":-462,"y":3.21,"y2":12.5},{"x":125,"x2":25372,"y":-4.06,"y2":-4.06}]},
  "mark":{"type":"rule","color":"#000","strokeWidth":2},
  "encoding":{
   "x":{"field":"x","type":"quantitative","scale":{"type":"symlog","constant":40,"domain":[-66,231700],"nice":false,"zero":false},
        "axis":{"orient":"bottom","values":[-60,-50,-40,-30,-20,-10,10,20,30,40,50,60,70,80,90,200,300,400,500,600,700,800,900,2000,3000,4000,5000,6000,7000,8000,9000,20000,30000,40000,50000,60000,70000,80000,90000,200000],"labels":false,"domain":false,"tickSize":5,"title":null}},
   "x2":{"field":"x2"},
   "y":{"field":"y","type":"quantitative","scale":{"domain":[0,22.25],"nice":false,"zero":false},
        "axis":{"orient":"left","values":[1,2,3,4,6,7,8,9,11,12,13,14,16,17,18,19,21,22],"labels":false,"domain":false,"tickSize":4,"title":null}},
   "y2":{"field":"y2"}
  }
 },
 {
  "data":{"values":[{"x":-462,"y":12.96,"s":"triangle-up"},{"x":25372,"y":-4.06,"s":"triangle-right"}]},
  "mark":{"type":"point","filled":true,"size":256,"color":"#000","opacity":1,"strokeWidth":0},
  "encoding":{
   "x":{"field":"x","type":"quantitative","scale":{"type":"symlog","constant":40,"domain":[-66,231700],"nice":false,"zero":false},"axis":null},
   "y":{"field":"y","type":"quantitative","scale":{"domain":[0,22.25],"nice":false,"zero":false},"axis":null},
   "shape":{"field":"s","type":"nominal","scale":null}
  }
 },
 {
  "data":{"values":[{"x":100,"y":-2.18,"t":"2"},{"x":1000,"y":-2.18,"t":"3"},{"x":10000,"y":-2.18,"t":"4"},{"x":100000,"y":-2.18,"t":"5"}]},
  "mark":{"type":"text","fontSize":13,"align":"left","baseline":"alphabetic","dx":2.5,"color":"#505050"},
  "encoding":{
   "x":{"field":"x","type":"quantitative","scale":{"type":"symlog","constant":40,"domain":[-66,231700],"nice":false,"zero":false},"axis":null},
   "y":{"field":"y","type":"quantitative","scale":{"domain":[0,22.25],"nice":false,"zero":false},"axis":null},
   "text":{"field":"t"}
  }
 },
 {
  "mark":{"type":"rule","color":"#000","strokeWidth":1},
  "encoding":{
   "y":{"datum":22.25,"type":"quantitative","scale":{"domain":[0,22.25],"nice":false,"zero":false},"axis":null}
  }
 }
 ]
}
]
}
